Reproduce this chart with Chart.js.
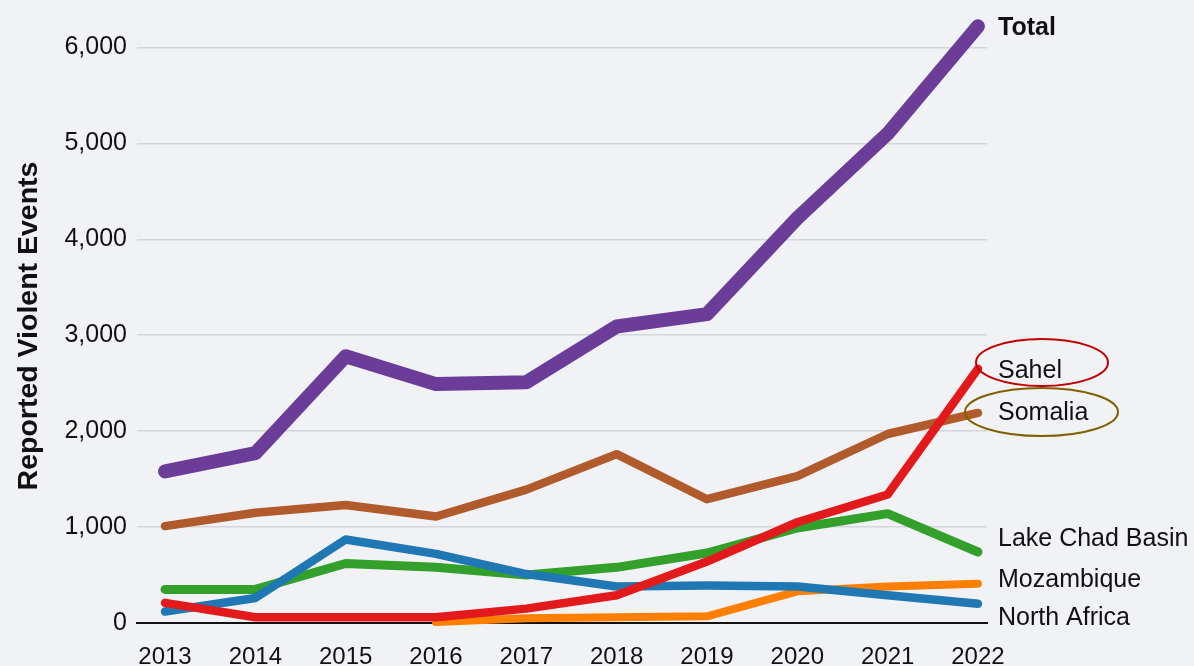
<!DOCTYPE html>
<html>
<head>
<meta charset="utf-8">
<script src="https://cdn.jsdelivr.net/npm/chart.js@4"></script>
<style>
  html, body { margin: 0; padding: 0; background: #f1f2f6; }
  canvas { display: block; }
</style>
</head>
<body>
<canvas id="c" width="1194" height="666"></canvas>
<script>
// ---- data ----
const years       = [2013, 2014, 2015, 2016, 2017, 2018, 2019, 2020, 2021, 2022];
const total       = [1580, 1770, 2780, 2490, 2510, 3090, 3220, 4220, 5100, 6220];
const sahel       = [210, 60, 60, 60, 150, 290, 640, 1050, 1340, 2650];
const somalia     = [1010, 1150, 1230, 1110, 1390, 1760, 1290, 1530, 1970, 2190];
const northAfrica = [120, 260, 870, 720, 510, 380, 390, 380, 290, 200];
const lakeChad    = [350, 350, 620, 580, 500, 580, 730, 990, 1140, 740];
const mozambique  = [null, null, null, 10, 50, 60, 70, 330, 380, 410];
const yTicks      = [0, 1000, 2000, 3000, 4000, 5000, 6000];
const seriesNames = ['Total', 'Sahel', 'Somalia', 'North Africa', 'Lake Chad Basin', 'Mozambique'];

const FONT = '"Liberation Sans", Arial, sans-serif';

const styles = {
  'Total':           { color: '#6b3d99', width: 14 },
  'Sahel':           { color: '#e31a1c', width: 8.5 },
  'Somalia':         { color: '#b15a2b', width: 8.5 },
  'North Africa':    { color: '#1f78b4', width: 8.5 },
  'Lake Chad Basin': { color: '#33a02c', width: 9 },
  'Mozambique':      { color: '#ff7f00', width: 8 }
};
const seriesValues = [total, sahel, somalia, northAfrica, lakeChad, mozambique];

const toPoints = vals => years.map((yr, i) => ({ x: yr, y: vals[i] }));

const datasets = seriesNames.map((name, i) => ({
  label: name,
  data: toPoints(seriesValues[i]),
  borderColor: styles[name].color,
  backgroundColor: styles[name].color,
  borderWidth: styles[name].width,
  borderCapStyle: 'round',
  borderJoinStyle: 'round',
  pointRadius: 0,
  tension: 0,
  spanGaps: false,
  clip: false
}));

// right-hand labels: pixel baselines
const endLabels = [
  { text: 'Total', y: 35, bold: true },
  { text: 'Sahel', y: 378, ellipse: { dx: 44, dy: -15.5, rx: 66, ry: 23.5, color: '#c00000' } },
  { text: 'Somalia', y: 420, ellipse: { dx: 43.5, dy: -8, rx: 76.5, ry: 24, color: '#806000' } },
  { text: 'Lake Chad Basin', y: 546 },
  { text: 'Mozambique', y: 587 },
  { text: 'North Africa', y: 625 }
];

const bgPlugin = {
  id: 'bg',
  beforeDraw(chart) {
    const ctx = chart.ctx;
    ctx.save();
    ctx.fillStyle = '#f1f2f6';
    ctx.fillRect(0, 0, chart.width, chart.height);
    ctx.restore();
  }
};

const annoPlugin = {
  id: 'anno',
  afterDraw(chart) {
    const ctx = chart.ctx;
    const x0 = 998;
    ctx.save();
    ctx.fillStyle = '#111';
    ctx.textAlign = 'left';
    ctx.textBaseline = 'alphabetic';
    endLabels.forEach(l => {
      ctx.font = (l.bold ? 'bold ' : '') + '25px ' + FONT;
      ctx.fillText(l.text, x0, l.y);
      if (l.ellipse) {
        const e = l.ellipse;
        ctx.beginPath();
        ctx.ellipse(x0 + e.dx, l.y + e.dy, e.rx, e.ry, 0, 0, Math.PI * 2);
        ctx.strokeStyle = e.color;
        ctx.lineWidth = 2;
        ctx.stroke();
      }
    });
    // y-axis title
    ctx.translate(37, 326);
    ctx.rotate(-Math.PI / 2);
    ctx.textAlign = 'center';
    ctx.font = 'bold 28.5px ' + FONT;
    ctx.fillText('Reported Violent Events', 0, 0);
    ctx.restore();
  }
};

new Chart(document.getElementById('c'), {
  type: 'line',
  data: { datasets },
  options: {
    responsive: false,
    animation: false,
    events: [],
    layout: { padding: { top: 9, right: 207, left: 0, bottom: 0 } },
    plugins: { legend: { display: false }, tooltip: { enabled: false } },
    scales: {
      x: {
        type: 'linear',
        min: 2012.69,
        max: 2022.1,
        afterBuildTicks: s => { s.ticks = years.map(v => ({ value: v })); },
        afterFit: s => { s.height = 43; s.paddingLeft = 0; s.paddingRight = 0; },
        grid: { display: false, drawTicks: false },
        border: { display: true, color: '#111', width: 2 },
        ticks: {
          autoSkip: false,
          maxRotation: 0,
          padding: 20,
          color: '#111',
          font: { family: FONT, size: 24 },
          callback: v => String(v)
        }
      },
      y: {
        min: 0,
        max: 6400,
        afterBuildTicks: s => { s.ticks = yTicks.map(v => ({ value: v })); },
        afterFit: s => { s.width = 137; s.paddingTop = 0; s.paddingBottom = 0; },
        grid: {
          drawTicks: false,
          lineWidth: 1.5,
          color: c => (c.tick && c.tick.value === 0) ? 'rgba(0,0,0,0)' : '#d4d6db'
        },
        border: { display: false },
        ticks: {
          padding: 10,
          color: '#111',
          font: { family: FONT, size: 25 },
          callback: v => v.toLocaleString('en-US')
        }
      }
    }
  },
  plugins: [bgPlugin, annoPlugin]
});
</script>
</body>
</html>
